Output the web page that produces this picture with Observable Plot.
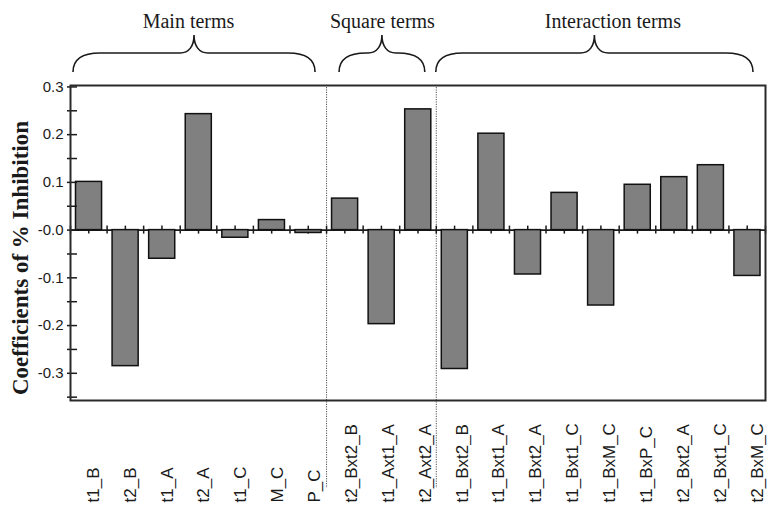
<!DOCTYPE html>
<html>
<head>
<meta charset="utf-8">
<script src="https://cdn.jsdelivr.net/npm/d3@7"></script>
<script src="https://cdn.jsdelivr.net/npm/@observablehq/plot@0.6"></script>
<style>
  html, body { margin: 0; padding: 0; background: #fff; }
  #chart { width: 767px; height: 505px; overflow: hidden; }
</style>
</head>
<body>
<div id="chart"></div>
<script>
// Model terms, in plotting order
const terms = [
  "t1_B", "t2_B", "t1_A", "t2_A", "t1_C", "M_C", "P_C",
  "t2_Bxt2_B", "t1_Axt1_A", "t2_Axt2_A",
  "t1_Bxt2_B", "t1_Bxt1_A", "t1_Bxt2_A", "t1_Bxt1_C", "t1_BxM_C",
  "t1_BxP_C", "t2_Bxt2_A", "t2_Bxt1_C", "t2_BxM_C"
];

// Regression coefficients for % inhibition
const coefficients = [
  0.101, -0.285, -0.060, 0.243, -0.016, 0.021, -0.006,
  0.066, -0.197, 0.253,
  -0.291, 0.202, -0.093, 0.078, -0.158,
  0.095, 0.111, 0.136, -0.096
];

// Term groups (number of consecutive terms in each)
const groupNames = ["Main terms", "Square terms", "Interaction terms"];
const groupSizes = [7, 3, 9];

// Y axis ticks
const yTickValues = [-0.3, -0.2, -0.1, 0, 0.1, 0.2, 0.3];
const yTickLabels = ["-0.3", "-0.2", "-0.1", "-0.0", "0.1", "0.2", "0.3"];
const yMinorTicks = [-0.35, -0.25, -0.15, -0.05, 0.05, 0.15, 0.25];

const yTitle = "Coefficients of % Inhibition";

// ---- derived tables ----
const bars = terms.map((term, i) => ({term, i, value: coefficients[i]}));

let start = 0;
const groups = groupNames.map((name, k) => {
  const g = {name, start, end: start + groupSizes[k]};
  start = g.end;
  return g;
});
const separators = groups.slice(1).map(g => g.start);

const width = 767, height = 505;
const marginLeft = 70, marginRight = 2, marginTop = 85, marginBottom = 105;
const step = (width - marginLeft - marginRight) / terms.length;

// brace insets (px) from the group edges, and heading nudges (px)
const braceInset = [[3, 11], [13, 11], [0, 12]];
const headingShift = [-10, 1, 12];

const sans = "'Liberation Sans', Arial, Helvetica, sans-serif";
const serif = "'Liberation Serif', 'Times New Roman', Times, serif";
const ink = "#1a1a1a";

// curly braces above each group of terms
function braces(index, scales) {
  const g = d3.create("svg:g")
    .attr("fill", "none")
    .attr("stroke", ink)
    .attr("stroke-width", 1.6);
  const yEnd = marginTop - 13, yMid = marginTop - 32, yTip = marginTop - 50;
  groups.forEach((grp, k) => {
    const x0 = scales.x(grp.start) + braceInset[k][0];
    const x1 = scales.x(grp.end) - braceInset[k][1];
    const t = (x0 + x1) / 2;
    const p = d3.path();
    p.moveTo(x0, yEnd);
    p.bezierCurveTo(x0, yMid + 7, x0 + 8, yMid, x0 + 27, yMid);
    p.lineTo(t - 14, yMid);
    p.bezierCurveTo(t - 5, yMid, t, yMid - 7, t, yTip);
    p.bezierCurveTo(t, yMid - 7, t + 5, yMid, t + 14, yMid);
    p.lineTo(x1 - 27, yMid);
    p.bezierCurveTo(x1 - 8, yMid, x1, yMid + 7, x1, yEnd);
    g.append("path").attr("d", p.toString());
  });
  return g.node();
}

const zeroTicks = d3.range(0, terms.length * 2 + 1).map(k => k / 2);
const innerWidth = width - marginLeft - marginRight;

const chart = Plot.plot({
  width, height,
  marginLeft, marginRight, marginTop, marginBottom,
  x: {type: "linear", domain: [0, terms.length], axis: null},
  y: {domain: [-0.357, 0.303], axis: null},
  style: {background: "#fff", fontFamily: sans, color: ink},
  marks: [
    // group separators
    Plot.ruleX(separators, {
      x: d => d, stroke: "#555", strokeWidth: 1, strokeDasharray: "1.2,1.2",
      insetTop: 2, insetBottom: -88
    }),
    // zero line
    Plot.ruleY([0], {stroke: ink, strokeWidth: 1.6}),
    // tick marks along the zero line
    Plot.ruleX(zeroTicks, {
      x: d => d, y1: 0, y2: 0, insetTop: -4, insetBottom: -4,
      stroke: ink, strokeWidth: 1.5
    }),
    // bars
    Plot.rect(bars, {
      x1: d => d.i, x2: d => d.i + 1, y1: 0, y2: "value",
      insetLeft: 5.5, insetRight: 5,
      fill: "#808080", stroke: "#111", strokeWidth: 1.5
    }),
    // y ticks crossing the axis
    Plot.ruleY(yTickValues.concat(yMinorTicks), {
      y: d => d, insetLeft: -3, insetRight: innerWidth - 7,
      stroke: ink, strokeWidth: 1.5
    }),
    Plot.frame({stroke: "#2a2a2a", strokeWidth: 2}),
    // y tick labels
    Plot.text(yTickValues, {
      y: d => d, frameAnchor: "left", dx: -7, textAnchor: "end",
      text: (d, i) => yTickLabels[i], fontSize: 15, fill: ink
    }),
    // y title
    Plot.text([yTitle], {
      text: d => d, frameAnchor: "left", dx: -43, dy: 15, rotate: -90,
      textAnchor: "middle", lineAnchor: "bottom", fontFamily: serif,
      fontWeight: "bold", fontSize: 23, fill: ink
    }),
    // term labels (fanning slightly to the right)
    Plot.text(bars, {
      x: d => d.i + 0.5 + (4.5 + 0.3 * d.i) / step,
      text: "term", frameAnchor: "bottom", dy: marginBottom - 3,
      rotate: -90, textAnchor: "start", lineAnchor: "middle",
      fontSize: 17, fill: ink
    }),
    // group headings
    Plot.text(groups, {
      x: (d, k) => (d.start + d.end) / 2 + headingShift[k] / step,
      text: "name", frameAnchor: "top", dy: -58, lineAnchor: "bottom",
      fontFamily: serif, fontSize: 20, fill: ink
    }),
    braces
  ]
});

document.getElementById("chart").append(chart);
</script>
</body>
</html>
